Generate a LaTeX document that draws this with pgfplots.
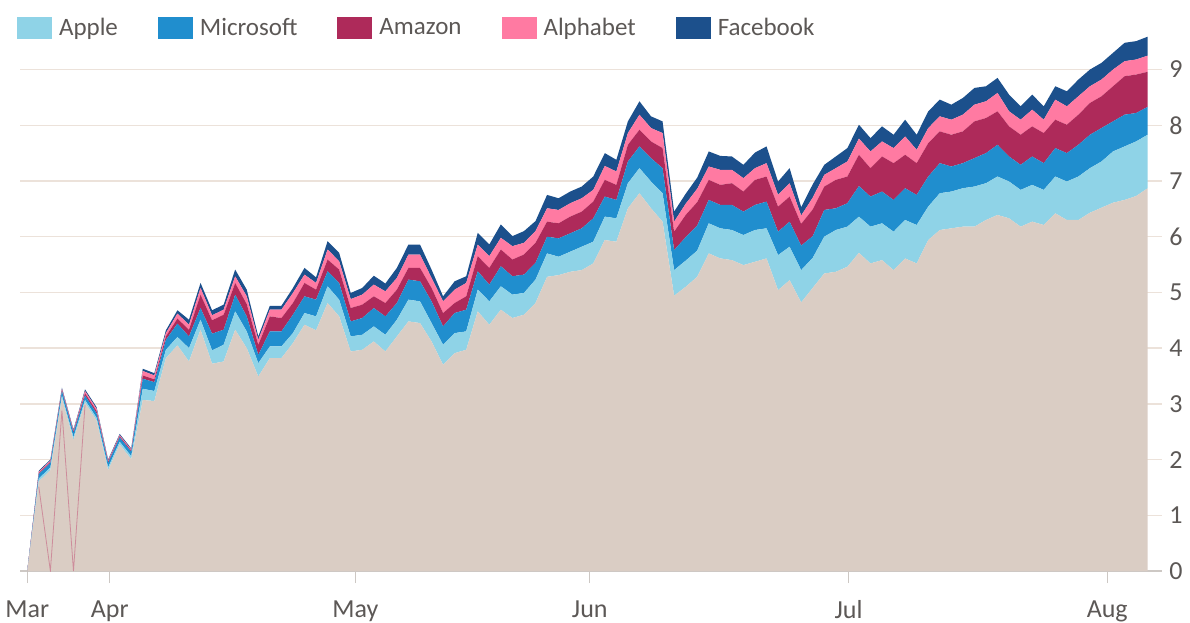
\documentclass[border=0pt]{standalone}
\usepackage{pgfplots}
\pgfplotsset{compat=1.18}
\usepackage{pgfplotstable}
\usepackage{fontspec}
\setmainfont{Carlito}
\definecolor{basec}{RGB}{218,205,196}
\definecolor{applec}{RGB}{143,211,231}
\definecolor{msftc}{RGB}{32,142,206}
\definecolor{amznc}{RGB}{174,42,90}
\definecolor{googc}{RGB}{255,122,162}
\definecolor{fbc}{RGB}{28,80,140}
\definecolor{gridc}{RGB}{236,226,218}
\definecolor{axisc}{RGB}{205,200,196}
\definecolor{txtc}{RGB}{92,88,86}
\definecolor{artc}{RGB}{205,140,155}

\pgfplotstableread{
i base apple msft amzn goog fb
0 0 0 0 0 0 0
1 1.61 0.05 0.08 0.02 0.02 0.02
2 1.81 0.05 0.08 0.02 0.02 0.02
3 3.10 0.05 0.08 0.02 0.02 0.02
4 2.35 0.05 0.08 0.02 0.02 0.02
5 3.02 0.05 0.08 0.04 0.04 0.03
6 2.70 0.05 0.08 0.04 0.04 0.03
7 1.81 0.05 0.08 0.02 0.02 0.02
8 2.27 0.05 0.08 0.02 0.02 0.02
9 2.01 0.05 0.08 0.02 0.02 0.02
10 3.07 0.20 0.18 0.06 0.08 0.04
11 3.05 0.18 0.16 0.05 0.07 0.04
12 3.82 0.15 0.18 0.06 0.06 0.05
13 4.05 0.15 0.24 0.09 0.09 0.06
14 3.76 0.24 0.21 0.12 0.09 0.09
15 4.33 0.18 0.21 0.24 0.12 0.09
16 3.72 0.24 0.30 0.24 0.09 0.09
17 3.76 0.30 0.27 0.27 0.09 0.09
18 4.33 0.33 0.30 0.21 0.12 0.12
19 4.00 0.30 0.27 0.22 0.14 0.12
20 3.49 0.24 0.15 0.18 0.09 0.06
21 3.82 0.21 0.27 0.27 0.12 0.07
22 3.82 0.21 0.27 0.24 0.15 0.07
23 4.09 0.18 0.33 0.21 0.18 0.09
24 4.42 0.21 0.30 0.24 0.15 0.12
25 4.32 0.25 0.30 0.18 0.12 0.10
26 4.81 0.30 0.27 0.21 0.18 0.15
27 4.57 0.30 0.30 0.24 0.15 0.15
28 3.94 0.27 0.27 0.24 0.16 0.11
29 3.97 0.27 0.30 0.24 0.18 0.12
30 4.12 0.27 0.33 0.21 0.21 0.16
31 3.94 0.30 0.33 0.24 0.21 0.14
32 4.21 0.30 0.30 0.24 0.21 0.18
33 4.48 0.39 0.36 0.21 0.24 0.18
34 4.45 0.39 0.36 0.24 0.24 0.18
35 4.12 0.33 0.39 0.24 0.18 0.15
36 3.70 0.36 0.33 0.24 0.21 0.09
37 3.91 0.36 0.36 0.18 0.24 0.15
38 3.97 0.33 0.39 0.24 0.24 0.12
39 4.66 0.39 0.33 0.27 0.21 0.21
40 4.42 0.42 0.30 0.30 0.21 0.21
41 4.69 0.42 0.36 0.30 0.21 0.24
42 4.54 0.42 0.33 0.30 0.24 0.18
43 4.60 0.39 0.33 0.36 0.21 0.21
44 4.81 0.42 0.30 0.36 0.21 0.18
45 5.28 0.42 0.30 0.27 0.24 0.24
46 5.31 0.33 0.33 0.27 0.24 0.21
47 5.37 0.36 0.33 0.30 0.24 0.21
48 5.40 0.42 0.33 0.30 0.24 0.21
49 5.52 0.39 0.42 0.30 0.21 0.24
50 5.94 0.42 0.36 0.30 0.25 0.23
51 5.91 0.42 0.33 0.27 0.24 0.21
52 6.51 0.45 0.39 0.30 0.21 0.21
53 6.78 0.45 0.39 0.30 0.27 0.24
54 6.51 0.48 0.42 0.30 0.24 0.21
55 6.27 0.51 0.45 0.36 0.27 0.21
56 4.94 0.46 0.36 0.33 0.18 0.18
57 5.10 0.47 0.42 0.40 0.20 0.18
58 5.28 0.47 0.45 0.42 0.24 0.20
59 5.70 0.54 0.42 0.36 0.24 0.27
60 5.61 0.54 0.42 0.36 0.27 0.25
61 5.58 0.54 0.45 0.39 0.24 0.24
62 5.49 0.54 0.42 0.36 0.24 0.24
63 5.55 0.57 0.45 0.45 0.21 0.28
64 5.61 0.54 0.48 0.45 0.24 0.30
65 5.04 0.63 0.42 0.45 0.21 0.24
66 5.22 0.60 0.45 0.45 0.24 0.27
67 4.82 0.58 0.44 0.39 0.15 0.15
68 5.08 0.54 0.39 0.48 0.21 0.24
69 5.34 0.66 0.48 0.42 0.21 0.18
70 5.37 0.75 0.39 0.51 0.21 0.21
71 5.46 0.72 0.42 0.48 0.27 0.24
72 5.71 0.65 0.55 0.56 0.29 0.25
73 5.52 0.66 0.54 0.51 0.30 0.24
74 5.58 0.66 0.57 0.63 0.27 0.27
75 5.40 0.69 0.57 0.66 0.27 0.24
76 5.61 0.69 0.57 0.60 0.33 0.30
77 5.52 0.69 0.54 0.57 0.24 0.27
78 5.94 0.60 0.54 0.60 0.27 0.30
79 6.12 0.66 0.54 0.57 0.27 0.30
80 6.15 0.66 0.45 0.57 0.27 0.27
81 6.18 0.69 0.45 0.57 0.30 0.30
82 6.18 0.72 0.51 0.66 0.30 0.30
83 6.30 0.66 0.54 0.63 0.30 0.27
84 6.39 0.69 0.57 0.60 0.33 0.27
85 6.33 0.66 0.45 0.54 0.27 0.30
86 6.18 0.66 0.45 0.54 0.27 0.24
87 6.27 0.66 0.51 0.54 0.30 0.27
88 6.21 0.63 0.48 0.54 0.24 0.24
89 6.42 0.66 0.51 0.51 0.36 0.24
90 6.30 0.69 0.51 0.51 0.33 0.27
91 6.30 0.78 0.57 0.54 0.33 0.30
92 6.43 0.80 0.60 0.57 0.30 0.30
93 6.52 0.83 0.60 0.57 0.30 0.30
94 6.61 0.92 0.54 0.63 0.30 0.30
95 6.66 0.96 0.57 0.69 0.27 0.33
96 6.73 0.98 0.51 0.69 0.27 0.33
97 6.87 0.96 0.50 0.63 0.29 0.34
}\data

\pgfplotsset{
  common/.style={
    scale only axis, width=571pt, height=268pt,
    xmin=-0.63, xmax=98.24, ymin=0, ymax=9.62,
  }
}

\begin{document}
\begin{tikzpicture}
\begin{axis}[
  common,
  stack plots=y,
  axis x line*=bottom, axis y line*=right,
  y axis line style={draw=none},
  x axis line style={draw=axisc, line width=0.7pt},
  xtick={0,7.14,28.4,48.7,71.1,93.5},
  xticklabels={Mar,Apr,May,Jun,Jul,Aug},
  xtick align=outside,
  xtick style={draw=axisc, line width=0.7pt},
  major tick length=6pt,
  ytick={0,1,...,9},
  ytick style={draw=none},
  ymajorgrids,
  grid style={draw=gridc, line width=0.7pt},
  /pgf/number format/assume math mode=true,
  tick label style={font=\fontsize{13}{15}\selectfont, text=txtc},
  yticklabel style={anchor=west, inner sep=0pt, xshift=3.5pt},
  xticklabel style={inner sep=0pt, yshift=-8.5pt},
  legend columns=5,
  legend style={at={(-0.0026,1.013)}, anchor=west, draw=none, fill=none,
    inner sep=0pt, outer sep=0pt,
    font=\fontsize{12.5}{14}\selectfont, text=txtc,
    /tikz/every odd column/.append style={column sep=1.5pt},
    /tikz/every even column/.append style={column sep=18pt}},
  legend image code/.code={\path[#1,draw=none] (0pt,-5.5pt) rectangle (17.5pt,5.5pt);},
]
\addplot[fill=basec, draw=none, forget plot] table[x=i, y=base] {\data} \closedcycle;
\addplot[fill=applec, draw=none] table[x=i, y=apple] {\data} \closedcycle;
\addplot[fill=msftc, draw=none] table[x=i, y=msft] {\data} \closedcycle;
\addplot[fill=amznc, draw=none] table[x=i, y=amzn] {\data} \closedcycle;
\addplot[fill=googc, draw=none] table[x=i, y=goog] {\data} \closedcycle;
\addplot[fill=fbc, draw=none] table[x=i, y=fb] {\data} \closedcycle;
\legend{Apple,Microsoft,Amazon,Alphabet,Facebook}
\node[font=\fontsize{12.5}{14}\selectfont, text=txtc] at (axis cs:59.8,2.44) {Remaining S\&P 500};
\end{axis}
\begin{axis}[common, hide axis]
\addplot[draw=artc, line width=0.4pt] coordinates {(1,1.51) (2,0) (3,2.88) (4,0) (5,2.98)};
\end{axis}
\pgfresetboundingbox
\path[use as bounding box] (-10pt,-25.5pt) rectangle (585pt,285.5pt);
\end{tikzpicture}
\end{document}
